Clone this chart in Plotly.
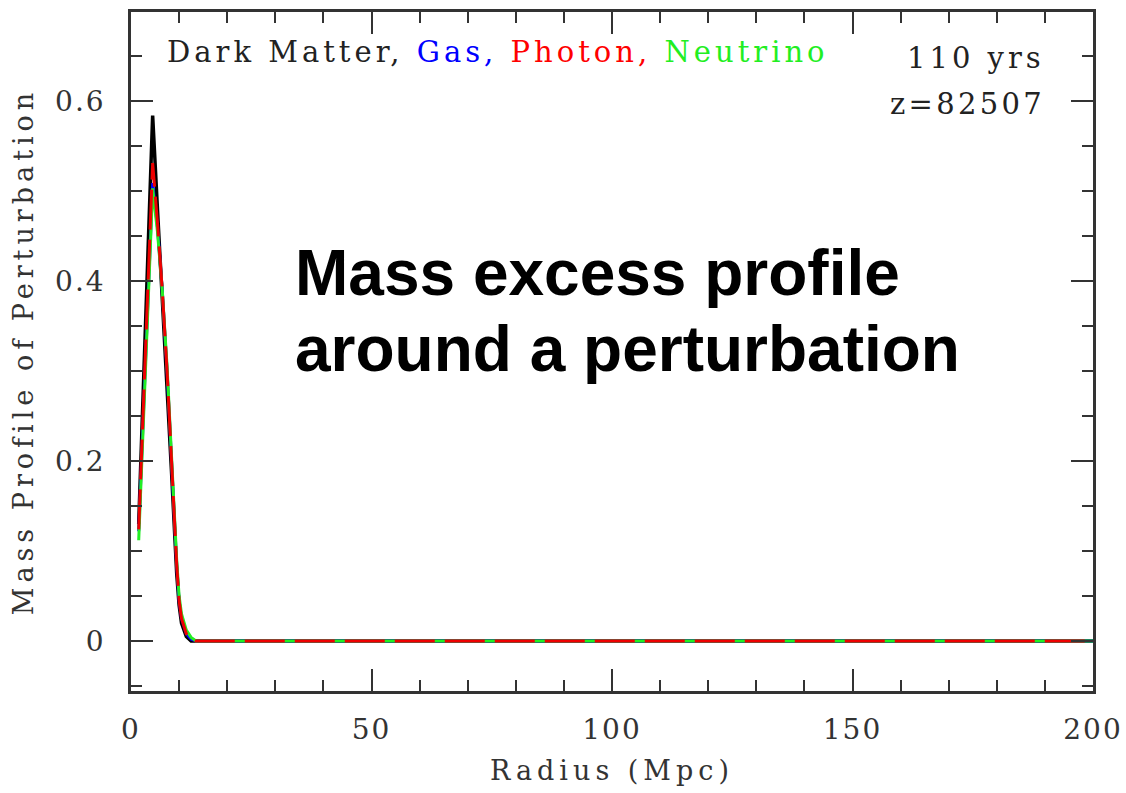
import plotly.graph_objects as go

# Data
radius = [1.6, 4.5, 5.5, 6.5, 7.5, 8.5, 9.5, 10.0, 10.5, 11.5, 12.5, 13.5, 200.0]
dark_matter = [0.13, 0.584, 0.48, 0.385, 0.29, 0.18, 0.075, 0.04, 0.02, 0.005, 0.0, 0.0, 0.0]
gas = [0.122, 0.509, 0.46, 0.39, 0.30, 0.19, 0.085, 0.045, 0.025, 0.008, 0.002, 0.0, 0.0]
photon = [0.124, 0.531, 0.465, 0.39, 0.30, 0.19, 0.085, 0.045, 0.025, 0.008, 0.002, 0.0, 0.0]
neutrino = [0.112, 0.503, 0.455, 0.39, 0.305, 0.195, 0.09, 0.05, 0.03, 0.012, 0.004, 0.0, 0.0]

x_tickvals = [0, 50, 100, 150, 200]
x_ticktext = ["0", "50", "100", "150", "200"]
y_tickvals = [0, 0.2, 0.4, 0.6]
y_ticktext = ["0", "0.2", "0.4", "0.6"]

SERIF = "DejaVu Serif"
AXCOL = "#333333"


def spaced(t, px):
    return f"<span style='letter-spacing:{px}px'>{t}</span>"


fig = go.Figure()
fig.add_trace(go.Scatter(x=radius, y=dark_matter, mode="lines",
                         line=dict(color="#000000", width=3.5), name="Dark Matter"))
fig.add_trace(go.Scatter(x=radius, y=gas, mode="lines",
                         line=dict(color="#0000ff", width=3), name="Gas"))
fig.add_trace(go.Scatter(x=radius, y=neutrino, mode="lines",
                         line=dict(color="#22ee22", width=3), name="Neutrino"))
fig.add_trace(go.Scatter(x=radius, y=photon, mode="lines",
                         line=dict(color="#ee0000", width=3, dash="40px,10px"), name="Photon"))

axis_common = dict(
    showgrid=False, zeroline=False, showline=True, linecolor=AXCOL, linewidth=2.5,
    mirror="allticks", ticks="inside", ticklen=22, tickwidth=2, tickcolor=AXCOL,
    tickfont=dict(family=SERIF, size=28, color=AXCOL), automargin=False,
)

fig.update_xaxes(**axis_common, range=[0, 200], tickvals=x_tickvals,
                 ticktext=[spaced(t, 2) for t in x_ticktext], ticklabelstandoff=12,
                 minor=dict(dtick=10, ticks="inside", ticklen=11, tickwidth=2, tickcolor=AXCOL),
                 title=dict(text=spaced("Radius (Mpc)", 5), font=dict(family=SERIF, size=27, color=AXCOL), standoff=16))
fig.update_yaxes(**axis_common, range=[-0.0556, 0.699], tickvals=y_tickvals,
                 ticktext=[spaced(t, 2) for t in y_ticktext], ticklabelstandoff=17,
                 minor=dict(dtick=0.05, tick0=0, ticks="inside", ticklen=11, tickwidth=2, tickcolor=AXCOL),
                 title=dict(text=spaced("Mass Profile of Perturbation", 5), font=dict(family=SERIF, size=27, color=AXCOL), standoff=14))

fig.add_annotation(x=7.0, y=0.654, xref="x", yref="y", xanchor="left", yanchor="middle",
                   showarrow=False, font=dict(family=SERIF, size=29, color="#222222"),
                   text=spaced("Dark Matter, <span style='color:#0000ff'>Gas,</span> "
                               "<span style='color:#ff0000'>Photon,</span> "
                               "<span style='color:#22ee22'>Neutrino</span>", 4))
fig.add_annotation(x=190.4, y=0.648, xref="x", yref="y", xanchor="right", yanchor="middle",
                   showarrow=False, font=dict(family=SERIF, size=29, color="#222222"), text=spaced("110 yrs", 4))
fig.add_annotation(x=190.4, y=0.597, xref="x", yref="y", xanchor="right", yanchor="middle",
                   showarrow=False, font=dict(family=SERIF, size=29, color="#222222"), text=spaced("z=82507", 3.3))

fig.add_annotation(x=33.7, y=0.409, xref="x", yref="y", xanchor="left", yanchor="middle",
                   showarrow=False, font=dict(family="Liberation Sans", size=64, color="#000000"),
                   text="<b>Mass excess profile</b>")
fig.add_annotation(x=33.7, y=0.325, xref="x", yref="y", xanchor="left", yanchor="middle",
                   showarrow=False, font=dict(family="Liberation Sans", size=64, color="#000000"),
                   text="<b>around a perturbation</b>")

fig.update_layout(
    width=1126, height=793, showlegend=False,
    margin=dict(l=131, r=33, t=12, b=102),
    paper_bgcolor="white", plot_bgcolor="white",
)

fig.write_html("out.html")
